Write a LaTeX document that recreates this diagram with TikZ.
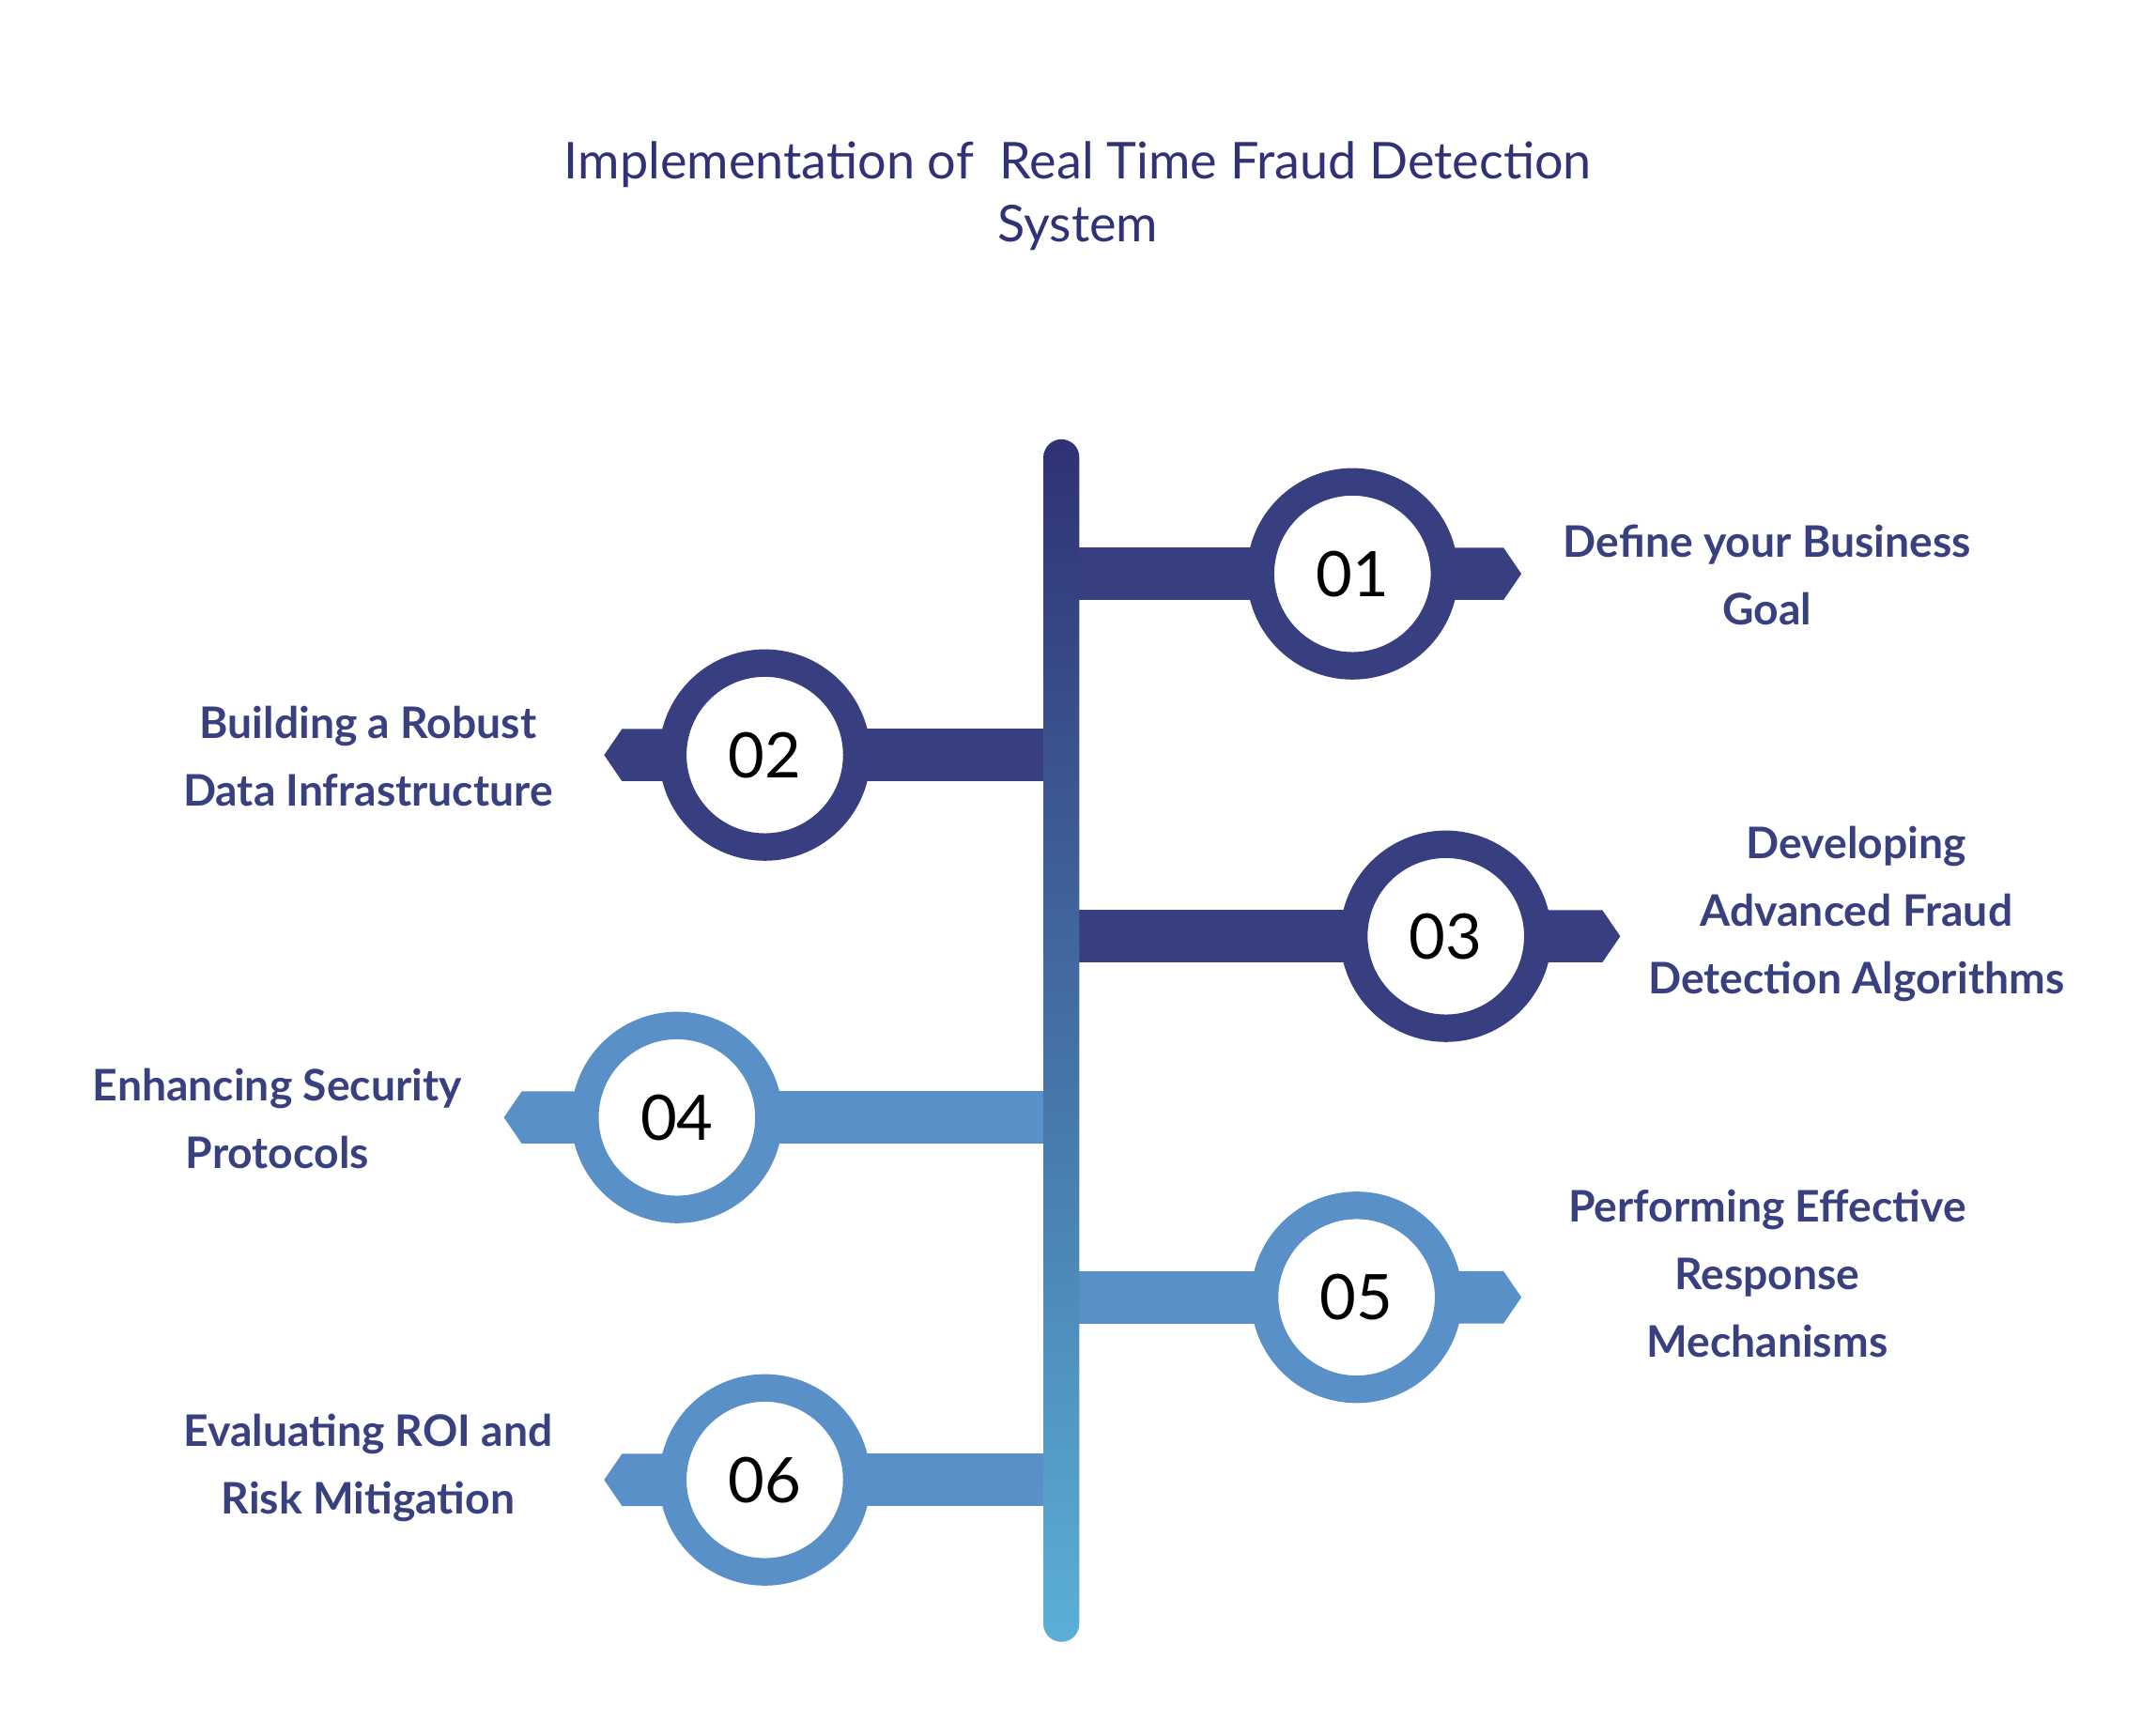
\documentclass[tikz,border=0pt]{standalone}
\usepackage{fontspec}
\setmainfont{Lato}
\begin{document}
\begin{tikzpicture}[x=0.01cm,y=-0.01cm,
  ring/.style={circle,draw=#1,line width=20*0.2845pt,fill=white,minimum size=134*0.01cm,inner sep=0pt,font=\fontsize{13}{15}\selectfont,text=black},
  lbl/.style={align=center,text=navy,font=\bfseries\fontsize{9}{14}\selectfont}]
\definecolor{navy}{HTML}{39407F}
\definecolor{dk}{HTML}{383F80}
\definecolor{lt}{HTML}{5A90C8}
\definecolor{ttl}{HTML}{2F3274}
\useasboundingbox (0,0) rectangle (1560,1264);
\fill[white] (0,0) rectangle (1560,1264);
\node[text=ttl,align=center,font=\fontsize{10.5}{13}\selectfont] (title) at (785,143) {Implementation of\ \ Real Time Fraud Detection\\System};
% horizontal bars
\newcommand{\rbar}[4]{\fill[#1] (773,#2-19) rectangle (#3,#2+19) -- cycle;
  \fill[#1] (#3-40,#2-19) -- (#4-13,#2-19) -- (#4,#2) -- (#4-13,#2+19) -- (#3-40,#2+19) -- cycle;}
\newcommand{\lbar}[4]{\fill[#1] (773,#2-19) rectangle (#3,#2+19);
  \fill[#1] (#3+40,#2-19) -- (#4+13,#2-19) -- (#4,#2) -- (#4+13,#2+19) -- (#3+40,#2+19) -- cycle;}
\rbar{dk}{418}{985}{1108}
\lbar{dk}{550}{557}{440}
\rbar{dk}{682}{1053}{1180}
\lbar{lt}{814}{493}{367}
\rbar{lt}{945}{988}{1108}
\lbar{lt}{1078}{557}{440}
% spine
\shade[top color=ttl,bottom color=lt!80!cyan!90!white,rounded corners=13*0.01cm] (760,320) rectangle (786,1196);
\node[ring=dk] (n1) at (985,418) {01};
\node[ring=dk] (n2) at (557,550) {02};
\node[ring=dk] (n3) at (1053,682) {03};
\node[ring=lt] (n4) at (493,814) {04};
\node[ring=lt] (n5) at (988,945) {05};
\node[ring=lt] (n6) at (557,1078) {06};
\node[lbl] (t1) at (1287,419) {Define your Business\\Goal};
\node[lbl] (t2) at (268,551) {Building a Robust\\Data Infrastructure};
\node[lbl] (t3) at (1352,666) {Developing\\Advanced Fraud\\Detection Algorithms};
\node[lbl] (t4) at (202,815) {Enhancing Security\\Protocols};
\node[lbl] (t5) at (1287,928) {Performing Effective\\Response\\Mechanisms};
\node[lbl] (t6) at (268,1069) {Evaluating ROI and\\Risk Mitigation};
\end{tikzpicture}
\end{document}
